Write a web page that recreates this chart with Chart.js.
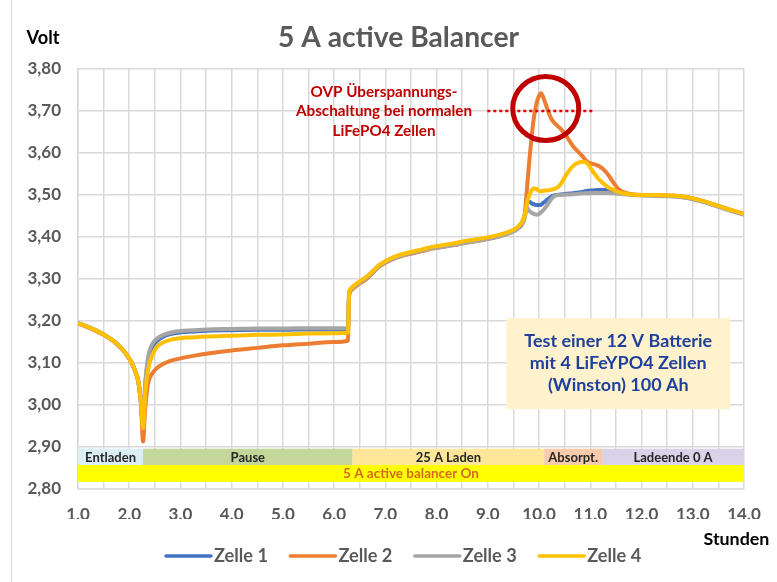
<!DOCTYPE html>
<html>
<head>
<meta charset="utf-8">
<script src="https://cdn.jsdelivr.net/npm/chart.js@4"></script>
<style>
  html, body { margin: 0; padding: 0; background: #ffffff; }
  canvas { display: block; }
</style>
</head>
<body>
<canvas id="chart" width="777" height="582"></canvas>
<script>
// Measurement times in hours
const hours = [
  1.0, 1.25, 1.5, 1.75, 1.95, 2.05, 2.12, 2.18, 2.23, 2.27,
  2.31, 2.37, 2.45, 2.54, 2.65, 2.8, 3.0, 3.25, 3.5, 4.0,
  4.5, 5.0, 5.5, 6.0, 6.27, 6.29, 6.32, 6.44, 6.64, 6.9,
  7.16, 7.42, 7.7, 7.94, 8.3, 8.59, 8.9, 9.11, 9.3, 9.5,
  9.6, 9.67, 9.72, 9.76, 9.81, 9.86, 9.9, 9.95, 10.0, 10.04,
  10.09, 10.17, 10.25, 10.33, 10.41, 10.54, 10.67, 10.77, 10.87, 10.95,
  11.05, 11.15, 11.25, 11.35, 11.46, 11.55, 11.65, 11.75, 11.85, 12.0,
  12.25, 12.5, 12.75, 13.0, 13.2, 13.4, 13.6, 13.8, 14.0
];

// Cell voltages (V)
const zelle1 = [
  3.195, 3.183, 3.168, 3.147, 3.120, 3.100, 3.080, 3.055, 3.005, 2.947,
  3.040, 3.108, 3.138, 3.152, 3.162, 3.169, 3.173, 3.175, 3.177, 3.178,
  3.179, 3.179, 3.180, 3.180, 3.180, 3.261, 3.275, 3.288, 3.305, 3.334,
  3.351, 3.361, 3.369, 3.376, 3.383, 3.390, 3.396, 3.401, 3.407, 3.416,
  3.425, 3.435, 3.450, 3.480, 3.484, 3.480, 3.478, 3.476, 3.476, 3.477,
  3.482, 3.490, 3.497, 3.500, 3.501, 3.503, 3.504, 3.506, 3.508, 3.510,
  3.511, 3.512, 3.512, 3.512, 3.510, 3.508, 3.505, 3.502, 3.500, 3.500,
  3.499, 3.498, 3.496, 3.491, 3.485, 3.477, 3.469, 3.461, 3.454
];
const zelle2 = [
  3.194, 3.182, 3.167, 3.146, 3.119, 3.099, 3.078, 3.052, 3.000, 2.913,
  2.990, 3.052, 3.075, 3.088, 3.097, 3.105, 3.111, 3.117, 3.122, 3.130,
  3.136, 3.142, 3.146, 3.150, 3.153, 3.256, 3.271, 3.284, 3.301, 3.331,
  3.348, 3.358, 3.366, 3.373, 3.380, 3.387, 3.393, 3.398, 3.405, 3.414,
  3.424, 3.436, 3.455, 3.510, 3.583, 3.645, 3.685, 3.718, 3.736, 3.742,
  3.730, 3.702, 3.679, 3.668, 3.659, 3.639, 3.615, 3.602, 3.589, 3.578,
  3.574, 3.570, 3.562, 3.548, 3.528, 3.514, 3.507, 3.503, 3.501, 3.500,
  3.500, 3.499, 3.497, 3.492, 3.486, 3.478, 3.470, 3.462, 3.455
];
const zelle3 = [
  3.195, 3.183, 3.168, 3.147, 3.120, 3.100, 3.080, 3.055, 3.005, 2.948,
  3.050, 3.115, 3.145, 3.158, 3.166, 3.172, 3.176, 3.178, 3.180, 3.181,
  3.182, 3.182, 3.183, 3.183, 3.183, 3.260, 3.273, 3.286, 3.303, 3.332,
  3.349, 3.359, 3.367, 3.373, 3.380, 3.387, 3.393, 3.398, 3.404, 3.413,
  3.421, 3.430, 3.445, 3.470, 3.462, 3.457, 3.455, 3.453, 3.455, 3.459,
  3.465, 3.478, 3.492, 3.499, 3.500, 3.501, 3.502, 3.503, 3.504, 3.504,
  3.505, 3.505, 3.505, 3.505, 3.504, 3.503, 3.502, 3.501, 3.500, 3.499,
  3.498, 3.497, 3.495, 3.490, 3.484, 3.476, 3.468, 3.460, 3.453
];
const zelle4 = [
  3.195, 3.183, 3.168, 3.147, 3.120, 3.100, 3.080, 3.055, 3.005, 2.945,
  3.025, 3.085, 3.118, 3.138, 3.148, 3.155, 3.159, 3.161, 3.163, 3.165,
  3.167, 3.168, 3.170, 3.171, 3.172, 3.262, 3.276, 3.289, 3.306, 3.335,
  3.352, 3.362, 3.370, 3.377, 3.384, 3.391, 3.397, 3.402, 3.408, 3.417,
  3.426, 3.436, 3.452, 3.478, 3.500, 3.512, 3.516, 3.514, 3.510, 3.509,
  3.510, 3.511, 3.513, 3.516, 3.524, 3.550, 3.570, 3.577, 3.579, 3.574,
  3.556, 3.540, 3.528, 3.518, 3.512, 3.507, 3.504, 3.502, 3.501, 3.500,
  3.500, 3.499, 3.497, 3.492, 3.486, 3.478, 3.470, 3.462, 3.455
];

const seriesNames = ['Zelle 1', 'Zelle 2', 'Zelle 3', 'Zelle 4'];
const seriesValues = [zelle1, zelle2, zelle3, zelle4];

// Test phases along the time axis (start / end in hours)
const phaseLabels = ['Entladen', 'Pause', '25 A Laden', 'Absorpt.', 'Ladeende 0 A'];
const phaseStarts = [1.0, 2.27, 6.36, 10.1, 11.23];
const phaseEnds   = [2.27, 6.36, 10.1, 11.23, 14.0];
const balancerLabel = '5 A active balancer On';

// Axis ranges
const yMin = 2.8, yMax = 3.8, yStep = 0.1;
const xMin = 1, xMax = 14, xStep = 0.5;
const ovpLimit = 3.70;

// ---- styling ----
const seriesColors = ['#4472C4', '#ED7D31', '#A5A5A5', '#FFC000'];
const phaseColors = ['#dbeef4', '#c4d79b', '#ffe699', '#f8cbad', '#d9d2e9'];
const FONT = 'Lato, "Open Sans", sans-serif';
const GRID = '#d9d9d9';
const AXIS_TEXT = '#595959';
const RED = '#c00000';

const comma = (v, d) => v.toFixed(d).replace('.', ',');

// pick a bold font size so that `text` spans `width` pixels
function fitFont(ctx, text, width) {
  ctx.font = 'bold 20px ' + FONT;
  const size = 20 * width / ctx.measureText(text).width;
  ctx.font = 'bold ' + size.toFixed(2) + 'px ' + FONT;
  return size;
}

const decorations = {
  id: 'decorations',
  beforeDatasetsDraw(chart) {
    const { ctx, scales: { x, y } } = chart;
    const top = y.getPixelForValue(2.896);
    const mid = y.getPixelForValue(2.857);
    const bot = y.getPixelForValue(2.817);
    ctx.save();
    ctx.textAlign = 'center';
    ctx.textBaseline = 'middle';
    ctx.font = 'bold 13px ' + FONT;
    phaseLabels.forEach((lab, i) => {
      const x0 = x.getPixelForValue(phaseStarts[i]);
      const x1 = x.getPixelForValue(phaseEnds[i]);
      ctx.fillStyle = phaseColors[i];
      ctx.fillRect(x0, top, x1 - x0, mid - top);
      ctx.fillStyle = '#262626';
      ctx.fillText(lab, (x0 + x1) / 2, (top + mid) / 2 + 0.5);
    });
    const xa = x.getPixelForValue(xMin), xb = x.getPixelForValue(xMax);
    ctx.fillStyle = '#ffff00';
    ctx.fillRect(xa, mid, xb - xa, bot - mid);
    ctx.fillStyle = '#d46a1e';
    fitFont(ctx, balancerLabel, 136);
    ctx.fillText(balancerLabel, (xa + xb) / 2, (mid + bot) / 2 + 0.5);
    ctx.restore();
  },
  afterDatasetsDraw(chart) {
    const { ctx, scales: { x, y } } = chart;
    ctx.save();
    // info box
    const bx0 = x.getPixelForValue(9.36), bx1 = x.getPixelForValue(13.73);
    const by0 = y.getPixelForValue(3.207), by1 = y.getPixelForValue(2.99);
    ctx.fillStyle = '#fff2cc';
    ctx.fillRect(bx0, by0, bx1 - bx0, by1 - by0);
    ctx.fillStyle = '#1f3f9c';
    fitFont(ctx, 'Test einer 12 V Batterie', 188);
    ctx.textAlign = 'center';
    ctx.textBaseline = 'middle';
    const cx = (bx0 + bx1) / 2, cy = (by0 + by1) / 2;
    ['Test einer 12 V Batterie', 'mit 4 LiFeYPO4 Zellen', '(Winston) 100 Ah'].forEach((t, i) => {
      ctx.fillText(t, cx, cy + (i - 1) * 22);
    });
    // OVP limit marker
    const ly = y.getPixelForValue(ovpLimit);
    ctx.strokeStyle = '#e00000';
    ctx.lineWidth = 2.5;
    ctx.setLineDash([3, 3]);
    ctx.beginPath();
    ctx.moveTo(x.getPixelForValue(8.99), ly);
    ctx.lineTo(x.getPixelForValue(11.07), ly);
    ctx.stroke();
    ctx.setLineDash([]);
    // circle around the peak
    ctx.strokeStyle = RED;
    ctx.lineWidth = 5;
    ctx.beginPath();
    ctx.ellipse(x.getPixelForValue(10.13), y.getPixelForValue(3.706), 33, 32, 0, 0, Math.PI * 2);
    ctx.stroke();
    ctx.restore();
  },
  afterDraw(chart) {
    const { ctx } = chart;
    ctx.save();
    // frame line
    ctx.strokeStyle = GRID;
    ctx.lineWidth = 1;
    ctx.beginPath();
    ctx.moveTo(11.5, 0); ctx.lineTo(11.5, 582);
    ctx.stroke();
    // title
    ctx.fillStyle = AXIS_TEXT;
    ctx.textAlign = 'left';
    ctx.textBaseline = 'alphabetic';
    fitFont(ctx, '5 A active Balancer', 241);
    ctx.fillText('5 A active Balancer', 278, 47);
    // axis titles
    ctx.fillStyle = '#000000';
    fitFont(ctx, 'Volt', 33);
    ctx.fillText('Volt', 26.5, 43.5);
    fitFont(ctx, 'Stunden', 66);
    ctx.fillText('Stunden', 703.5, 545);
    // OVP annotation
    ctx.fillStyle = RED;
    ctx.textAlign = 'center';
    ctx.textBaseline = 'middle';
    fitFont(ctx, 'Abschaltung bei normalen', 176);
    ['OVP Überspannungs-', 'Abschaltung bei normalen', 'LiFePO4 Zellen'].forEach((t, i) => {
      ctx.fillText(t, 384, 92 + i * 19.5);
    });
    // legend
    fitFont(ctx, 'Zelle 1', 54);
    ctx.textAlign = 'left';
    const legY = 556;
    let lx = 166;
    seriesNames.forEach((n, i) => {
      ctx.strokeStyle = seriesColors[i];
      ctx.lineWidth = 3.5;
      ctx.lineCap = 'round';
      ctx.beginPath();
      ctx.moveTo(lx, legY);
      ctx.lineTo(lx + 45, legY);
      ctx.stroke();
      ctx.fillStyle = AXIS_TEXT;
      ctx.fillText(n, lx + 48, legY);
      lx += 124.4;
    });
    ctx.restore();
  }
};

const datasets = seriesNames.map((name, i) => ({
  label: name,
  data: hours.map((h, k) => ({ x: h, y: seriesValues[i][k] })),
  borderColor: seriesColors[i],
  backgroundColor: seriesColors[i],
  borderWidth: 4,
  pointRadius: 0,
  cubicInterpolationMode: 'monotone',
  order: seriesNames.length - i
}));

new Chart(document.getElementById('chart'), {
  type: 'line',
  data: { datasets },
  options: {
    responsive: false,
    animation: false,
    events: [],
    layout: { padding: { left: 0, right: 33, top: 69, bottom: 63 } },
    plugins: {
      legend: { display: false },
      tooltip: { enabled: false },
      title: { display: false }
    },
    scales: {
      x: {
        type: 'linear',
        min: xMin, max: xMax,
        afterFit(scale) { scale.height = 30; },
        border: { color: GRID, width: 1.5 },
        grid: { color: GRID, lineWidth: 1.5, drawTicks: false },
        ticks: {
          stepSize: xStep,
          autoSkip: false,
          maxRotation: 0,
          padding: 15,
          color: AXIS_TEXT,
          font: { family: FONT, size: 17, weight: 'bold' },
          callback: (v) => Number.isInteger(v) ? comma(v, 1) : ''
        }
      },
      y: {
        min: yMin, max: yMax,
        afterFit(scale) { scale.width = 78; },
        border: { color: GRID, width: 1.5 },
        grid: { color: GRID, lineWidth: 1.5, drawTicks: false },
        ticks: {
          stepSize: yStep,
          padding: 17,
          color: AXIS_TEXT,
          font: { family: FONT, size: 17, weight: 'bold' },
          callback: (v) => comma(v, 2)
        }
      }
    }
  },
  plugins: [decorations]
});
</script>
</body>
</html>
